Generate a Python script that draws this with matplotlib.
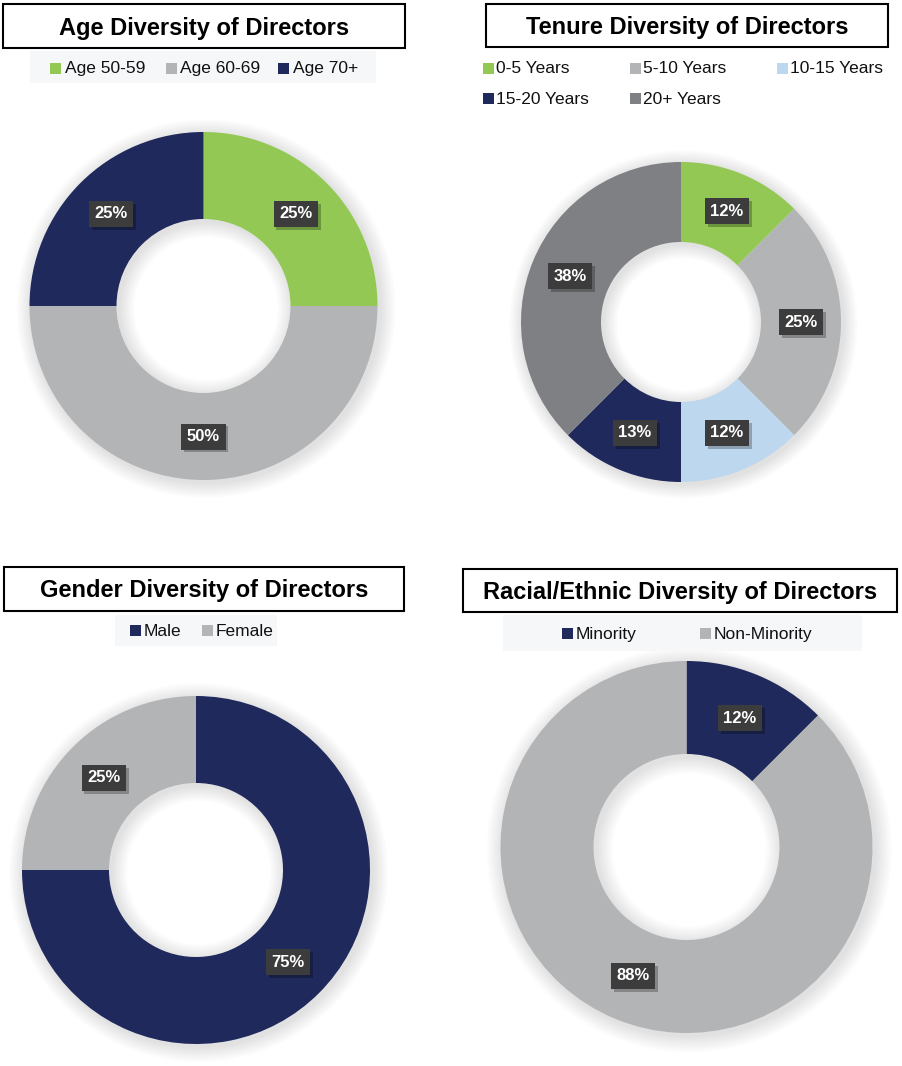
import matplotlib.pyplot as plt
import matplotlib.patheffects as pe
from matplotlib.patches import Rectangle
import numpy as np

plt.rcParams['font.family'] = ['Liberation Sans', 'DejaVu Sans']

# data
age_labels = ['Age 50-59', 'Age 60-69', 'Age 70+']
age_values = [25, 50, 25]
age_pct = ['25%', '50%', '25%']

tenure_labels = ['0-5 Years', '5-10 Years', '10-15 Years', '15-20 Years', '20+ Years']
tenure_values = [12.5, 25, 12.5, 12.5, 37.5]
tenure_pct = ['12%', '25%', '12%', '13%', '38%']

gender_labels = ['Male', 'Female']
gender_values = [75, 25]
gender_pct = ['75%', '25%']

racial_labels = ['Minority', 'Non-Minority']
racial_values = [12.5, 87.5]
racial_pct = ['12%', '88%']

GREEN = '#92c853'
GRAY = '#b3b4b6'
LBLUE = '#bdd7ee'
NAVY = '#1f295b'
DGRAY = '#7f8084'

W, H = 902, 1066
fig = plt.figure(figsize=(W / 100, H / 100), dpi=100)


def fx(x):
    return x / W


def fy(y):
    return 1 - y / H


def title_box(x0, x1, y0, y1, text):
    fig.patches.append(Rectangle((fx(x0), fy(y1)), fx(x1) - fx(x0), fy(y0) - fy(y1),
                                 transform=fig.transFigure, fc='white', ec='black', lw=1.5))
    fig.text(fx((x0 + x1) / 2), fy((y0 + y1) / 2 + 2), text, ha='center', va='center',
             fontsize=17, fontweight='bold')


def legend_bg(x0, x1, y0, y1):
    fig.patches.append(Rectangle((fx(x0), fy(y1)), fx(x1) - fx(x0), fy(y0) - fy(y1),
                                 transform=fig.transFigure, fc='#f6f7f9', ec='none'))


def legend_item(mx, tx, y, color, text):
    fig.patches.append(Rectangle((fx(mx), fy(y + 5.5)), 11 / W, 11 / H,
                                 transform=fig.transFigure, fc=color, ec='none'))
    fig.text(fx(tx), fy(y + 1), text, ha='left', va='center', fontsize=12.5, color='#111111')


def donut(cx, cy, r, values, pct, colors):
    pad = 1.15
    ax = fig.add_axes([(cx - r * pad) / W, 1 - (cy + r * pad) / H,
                       2 * r * pad / W, 2 * r * pad / H])
    ax.set_xlim(-pad, pad)
    ax.set_ylim(-pad, pad)
    ax.axis('off')
    # soft glow behind the ring
    for k in range(1, 16):
        d = 0.006 * k
        ax.pie([1], radius=1 + d, colors=['black'], center=(0.015, -0.015),
               wedgeprops=dict(width=0.5 + 2 * d, alpha=0.008, lw=0))
    wedges, _ = ax.pie(values, colors=colors, startangle=90, counterclock=False,
                       wedgeprops=dict(width=0.5, lw=0))
    for w, s in zip(wedges, pct):
        a = np.deg2rad((w.theta1 + w.theta2) / 2)
        t = ax.text(0.75 * np.cos(a), 0.75 * np.sin(a), s, ha='center', va='center',
                    color='white', fontsize=12, fontweight='bold',
                    bbox=dict(boxstyle='square,pad=0.33', fc='#3c3c3c', ec='none'))
        t.get_bbox_patch().set_path_effects(
            [pe.withSimplePatchShadow(offset=(2, -2), shadow_rgbFace='black', alpha=0.25)])
    ax.set_xlim(-pad, pad)
    ax.set_ylim(-pad, pad)
    return ax


# Age
title_box(3, 405, 4, 48, 'Age Diversity of Directors')
legend_bg(30, 376, 51, 83)
for (mx, tx), c, lab in zip([(50, 65), (166, 180), (278, 293)], [GREEN, GRAY, NAVY], age_labels):
    legend_item(mx, tx, 68, c, lab)
donut(203.5, 306, 174, age_values, age_pct, [GREEN, GRAY, NAVY])

# Tenure
title_box(486, 888, 4, 47, 'Tenure Diversity of Directors')
tenure_pos = [(483, 496, 68), (630, 643, 68), (777, 790, 68), (483, 496, 98), (630, 643, 98)]
tenure_colors = [GREEN, GRAY, LBLUE, NAVY, DGRAY]
for (mx, tx, y), c, lab in zip(tenure_pos, tenure_colors, tenure_labels):
    legend_item(mx, tx, y, c, lab)
donut(681, 322, 160, tenure_values, tenure_pct, tenure_colors)

# Gender
title_box(4, 404, 567, 611, 'Gender Diversity of Directors')
legend_bg(115, 277, 615, 646)
for (mx, tx), c, lab in zip([(130, 144), (202, 216)], [NAVY, GRAY], gender_labels):
    legend_item(mx, tx, 630, c, lab)
donut(196, 870, 174, gender_values, gender_pct, [NAVY, GRAY])

# Racial
title_box(463, 897, 569, 612, 'Racial/Ethnic Diversity of Directors')
legend_bg(503, 862, 615, 651)
for (mx, tx), c, lab in zip([(562, 576), (700, 714)], [NAVY, GRAY], racial_labels):
    legend_item(mx, tx, 633, c, lab)
donut(686.5, 847, 186, racial_values, racial_pct, [NAVY, GRAY])

plt.savefig('out.png', dpi=100)
plt.close()
